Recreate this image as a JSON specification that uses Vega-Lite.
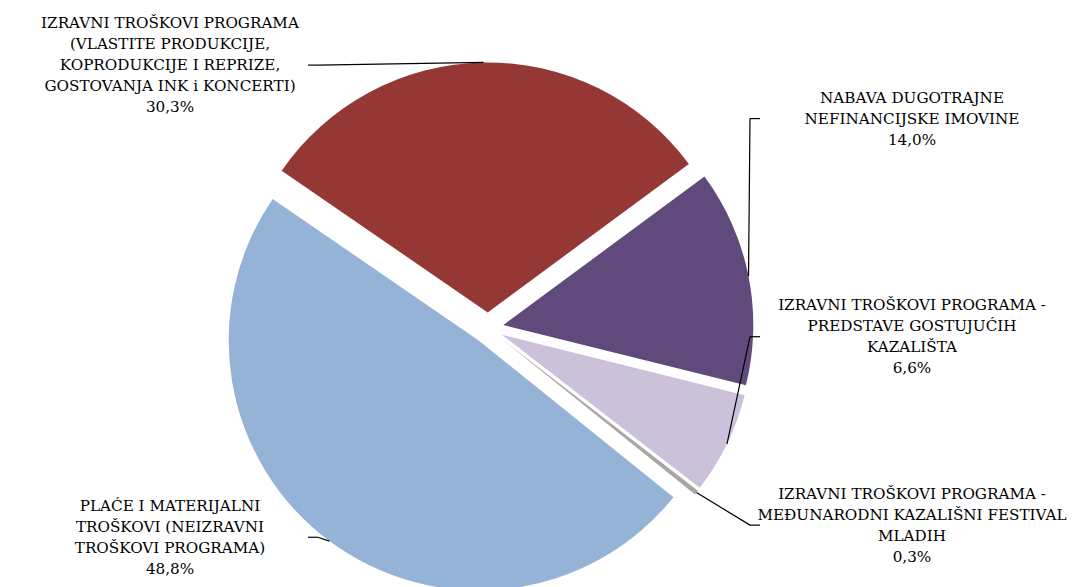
{
  "$schema": "https://vega.github.io/schema/vega-lite/v6.json",
  "width": 1075,
  "height": 587,
  "autosize": {"type": "none"},
  "padding": 0,
  "background": "white",
  "config": {"view": {"stroke": null}},
  "data": {
    "values": [
      {"category": "IZRAVNI TROŠKOVI PROGRAMA\n(VLASTITE PRODUKCIJE,\nKOPRODUKCIJE I REPRIZE,\nGOSTOVANJA INK i KONCERTI)", "value": 30.3, "ord": 1},
      {"category": "NABAVA DUGOTRAJNE\nNEFINANCIJSKE IMOVINE", "value": 14.0, "ord": 2},
      {"category": "IZRAVNI TROŠKOVI PROGRAMA -\nPREDSTAVE GOSTUJUĆIH\nKAZALIŠTA", "value": 6.6, "ord": 3},
      {"category": "IZRAVNI TROŠKOVI PROGRAMA -\nMEĐUNARODNI KAZALIŠNI FESTIVAL\nMLADIH", "value": 0.3, "ord": 4},
      {"category": "PLAĆE I MATERIJALNI\nTROŠKOVI (NEIZRAVNI\nTROŠKOVI PROGRAMA)", "value": 48.8, "ord": 5}
    ]
  },
  "transform": [
    {"joinaggregate": [{"op": "sum", "field": "value", "as": "total"}]},
    {"window": [{"op": "sum", "field": "value", "as": "cum"}], "sort": [{"field": "ord"}], "frame": [null, 0]},
    {"calculate": "-0.9687 + 2*PI*(datum.cum - datum.value/2)/datum.total", "as": "mid"},
    {"calculate": "15.6*sin(datum.mid)", "as": "ex"},
    {"calculate": "15.6*cos(datum.mid)", "as": "ey"},
    {"calculate": "datum.ex + 250*sin(datum.mid)", "as": "px"},
    {"calculate": "datum.ey + 250*cos(datum.mid)", "as": "py"},
    {"calculate": "sin(datum.mid) >= 0 ? 1 : -1", "as": "side"},
    {"window": [{"op": "row_number", "as": "rk"}], "groupby": ["side"], "sort": [{"field": "py", "order": "descending"}]},
    {"joinaggregate": [{"op": "count", "as": "n"}], "groupby": ["side"]},
    {"calculate": "0.75 * (262 - (datum.rk - 1) / max(datum.n - 1, 1) * 470) + 0.25 * datum.py", "as": "ly"},
    {"calculate": "datum.side > 0 ? 424 : -318", "as": "lx"},
    {"calculate": "datum.side > 0 ? 272 : -180", "as": "lex"},
    {"calculate": "datum.lex - datum.side * 10", "as": "sx"},
    {"calculate": "datum.category + '\\n' + replace(format(datum.value / datum.total, '.1%'), '.', ',')", "as": "label"},
    {"calculate": "datum.ly + (length(split(datum.label, '\\n')) - 1) * 21 / 2", "as": "ty"}
  ],
  "layer": [
    {
      "mark": {"type": "arc", "outerRadius": 250},
      "encoding": {
        "theta": {"field": "value", "type": "quantitative", "stack": true, "scale": {"range": [-0.9687, 5.3145], "nice": false}},
        "order": {"field": "ord", "type": "quantitative"},
        "x": {"field": "ex", "type": "quantitative", "scale": {"domain": [-488, 587], "nice": false, "zero": false}, "axis": null},
        "y": {"field": "ey", "type": "quantitative", "scale": {"domain": [-259, 328], "nice": false, "zero": false}, "axis": null},
        "color": {"field": "ord", "type": "nominal", "scale": {"domain": [1, 2, 3, 4, 5], "range": ["#953735", "#604A7B", "#CCC1DA", "#A6A6A6", "#95B3D7"]}, "legend": null}
      }
    },
    {
      "mark": {"type": "rule", "color": "black", "strokeWidth": 1.2},
      "encoding": {
        "x": {"field": "px", "type": "quantitative"},
        "y": {"field": "py", "type": "quantitative"},
        "x2": {"field": "sx"},
        "y2": {"field": "ly"}
      }
    },
    {
      "mark": {"type": "rule", "color": "black", "strokeWidth": 1.2},
      "encoding": {
        "x": {"field": "sx", "type": "quantitative"},
        "y": {"field": "ly", "type": "quantitative"},
        "x2": {"field": "lex"},
        "y2": {"field": "ly"}
      }
    },
    {
      "mark": {"type": "text", "font": "DejaVu Serif", "fontSize": 15.2, "lineHeight": 21, "lineBreak": "\n", "align": "center", "baseline": "middle", "color": "black"},
      "encoding": {
        "x": {"field": "lx", "type": "quantitative"},
        "y": {"field": "ty", "type": "quantitative"},
        "text": {"field": "label"}
      }
    }
  ]
}
